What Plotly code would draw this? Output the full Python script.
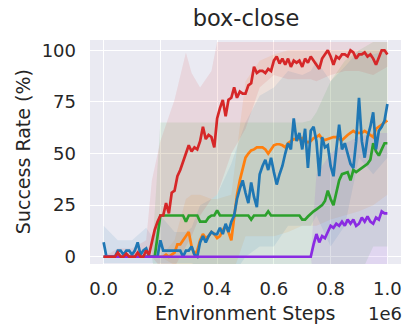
import plotly.graph_objects as go

# ---------------- data ----------------
steps = [i * 10000 for i in range(101)]

blue = [7, 0, 0, 0, 0, 3, 3, 1, 3, 3, 1, 3, 7, 1, 3, 4, 0, 0, 0, 0,
        8, 3, 3, 3, 3, 3, 3, 3, 0, 3, 3, 5, 1, 0, 7, 10, 7, 10, 12, 11,
        11, 14, 11, 16, 12, 17, 20, 28, 33, 37, 31, 26, 36, 29, 24, 40, 44, 47, 42, 48,
        41, 35, 40, 44, 50, 55, 52, 67, 56, 60, 52, 62, 43, 61, 63, 56, 39, 58, 53, 54,
        44, 39, 52, 64, 52, 55, 50, 45, 43, 56, 77, 56, 48, 58, 63, 70, 52, 61, 63, 66,
        74]

orange = [0] * 22 + [1, 0, 1, 2, 6, 6, 8, 10, 12, 5, 1, 3, 8, 11, 9, 10, 12, 11,
                     9, 10, 13, 15, 12, 8, 20, 30, 37, 43, 48, 50, 51.5, 52, 53, 53, 53, 52, 50, 52,
                     54, 54.5, 54.5, 54, 53, 55, 56, 57, 57, 57, 57.5, 56, 55.5, 56, 57.5, 58, 59, 57,
                     56.5, 57, 57.5, 58, 58, 57, 56.5, 58, 59, 60, 61, 60, 60, 60, 61, 60, 59, 58,
                     62, 63, 64, 65, 66]

green = [0] * 19 + [10] + [20] * 9 + [17] + [20] * 4 + [17] * 3 + [19, 20, 20, 22.5] + \
        [20] * 11 + [18] + [20] * 5 + [22] + [20] * 11 + \
        [18, 18, 19.5, 21, 22, 23, 24, 25, 27, 32, 28, 25, 31, 37, 40, 40.5, 41, 37, 42, 41,
         42, 43, 44, 45, 47, 55, 51, 49, 52, 55, 55]

red = [0, 0, 0, 0, 0, 2, 0, 0, 1.5, 0, 0, 0, 2, 0, 0, 3, 1,
       7, 13, 17, 20, 20, 26, 21, 31, 32, 39, 42, 46, 51, 54, 51, 53, 52, 56, 63, 57, 59, 58, 53,
       67, 72, 76, 68, 76, 77, 82, 77, 80, 79, 79, 83, 84, 92, 89, 90, 90, 89, 91, 90,
       95, 97, 93.6, 96, 93, 96, 92, 95, 94, 95, 92, 96, 94, 97, 95, 93, 91, 96, 98, 100,
       97, 93, 97, 96, 98, 98, 97, 100, 99, 96, 98, 98, 99, 97, 98, 96, 93, 97, 100, 100, 98]

purple = [0] * 74 + [6, 11, 7, 10, 9, 12, 15, 14, 16, 15, 17, 15, 18, 16, 18, 15, 16, 19, 17,
                     19.5, 17, 16, 19, 18, 22, 21, 21]

# shaded bands (coarse estimates)
band_x = [0, 50000, 100000, 150000, 170000, 200000, 250000, 290000, 310000, 340000, 380000,
          400000, 450000, 500000, 550000, 600000, 650000, 700000, 730000, 750000, 800000,
          850000, 900000, 950000, 1000000]
blue_hi = [15, 8, 8, 14, 10, 20, 12, 12, 14, 25, 28, 30, 45, 65, 78, 82, 90, 88, 90, 95, 85, 92, 100, 98, 100]
blue_lo = [-3, -3, -3, -3, -3, -3, -3, -3, -3, -5, -6, -8, -10, 0, 5, 5, 15, 15, 15, 20, 5, 15, 48, 40, 48]
orange_hi = [0, 0, 0, 0, 0, 0, 8, 28, 30, 30, 28, 28, 30, 85, 95, 98, 100, 100, 100, 100, 100, 100, 100, 100, 100]
orange_lo = [0, 0, 0, 0, 0, 0, -4, -6, -6, -6, -8, -8, -10, 10, 10, 10, 12, 15, 15, 15, 18, 20, 22, 25, 30]
green_hi = [0, 0, 0, 0, 0, 65, 65, 65, 65, 65, 65, 65, 65, 65, 65, 65, 65, 65, 66, 70, 85, 95, 100, 104, 104]
green_lo = [0, 0, 0, 0, 0, -25, -25, -25, -25, -25, -25, -25, -25, -25, -25, -25, -25, -25, -25, -20, -20, -10, -10, 5, 5]
red_hi = [0, 4, 4, 8, 37, 56, 76, 99, 89, 82, 90, 104, 104, 104, 104, 104, 104, 104, 104, 104, 104, 104, 104, 104, 104]
red_lo = [0, 0, 0, 0, 0, -5, -5, 5, 10, 20, 28, 30, 50, 62, 82, 88, 86, 86, 86, 85, 88, 90, 90, 88, 92]
purple_hi = [0] * 18 + [0, 40, 50, 55, 58, 60, 60]
purple_lo = [0] * 18 + [0, -20, -20, -20, -20, -20, -18]

x_tickvals = [0, 200000, 400000, 600000, 800000, 1000000]
x_ticktext = ["0.0", "0.2", "0.4", "0.6", "0.8", "1.0"]
y_tickvals = [0, 25, 50, 75, 100]
y_ticktext = ["0", "25", "50", "75", "100"]

C_BLUE = "#1f77b4"
C_ORANGE = "#ff7f0e"
C_GREEN = "#2ca02c"
C_RED = "#d62728"
C_PURPLE = "#8a2be2"


def rgba(hexc, a):
    h = hexc.lstrip("#")
    return "rgba(%d,%d,%d,%.2f)" % (int(h[0:2], 16), int(h[2:4], 16), int(h[4:6], 16), a)


fig = go.Figure()

series = [
    (orange, orange_hi, orange_lo, C_ORANGE),
    (green, green_hi, green_lo, C_GREEN),
    (blue, blue_hi, blue_lo, C_BLUE),
    (purple, purple_hi, purple_lo, C_PURPLE),
    (red, red_hi, red_lo, C_RED),
]

for _, hi, lo, col in series:
    fig.add_trace(go.Scatter(
        x=band_x + band_x[::-1], y=hi + lo[::-1],
        fill="toself", fillcolor=rgba(col, 0.10), line=dict(width=0),
        mode="lines", hoverinfo="skip", showlegend=False))

for mean, _, _, col in series:
    fig.add_trace(go.Scatter(
        x=steps, y=mean, mode="lines",
        line=dict(color=col, width=2.7), showlegend=False))

TXT = "#262626"
FONT = "DejaVu Sans"

fig.update_layout(
    width=406, height=325,
    margin=dict(l=90, r=5, t=40, b=61),
    paper_bgcolor="white", plot_bgcolor="#EAEAF2",
    font=dict(family=FONT, color=TXT),
    title=dict(text="box-close", x=0.606, xanchor="center", y=0.945, yanchor="middle",
               yref="container", font=dict(size=22.5, family=FONT, color=TXT)),
)
fig.update_xaxes(range=[-48000, 1048000], tickvals=x_tickvals, ticktext=x_ticktext,
                 showgrid=True, gridcolor="white", gridwidth=1.3, zeroline=False,
                 showline=False, ticks="", ticklabelstandoff=12,
                 tickfont=dict(size=18, family=FONT, color=TXT))
fig.update_yaxes(range=[-3.5, 105], tickvals=y_tickvals, ticktext=y_ticktext,
                 showgrid=True, gridcolor="white", gridwidth=1.3, zeroline=False,
                 showline=False, ticks="", ticklabelstandoff=13,
                 tickfont=dict(size=18, family=FONT, color=TXT))

fig.add_annotation(text="Environment Steps", xref="paper", yref="paper",
                   x=0.5, y=-0.22, xanchor="center", yanchor="middle", showarrow=False,
                   font=dict(size=19, family=FONT, color=TXT))
fig.add_annotation(text="1e6", xref="paper", yref="paper",
                   x=1.01, y=-0.22, xanchor="right", yanchor="middle", showarrow=False,
                   font=dict(size=18, family=FONT, color=TXT))
fig.add_annotation(text="Success Rate (%)", xref="paper", yref="paper",
                   x=-0.215, y=0.5, xanchor="center", yanchor="middle", showarrow=False,
                   textangle=-90, font=dict(size=19, family=FONT, color=TXT))

fig.write_html("out.html")
